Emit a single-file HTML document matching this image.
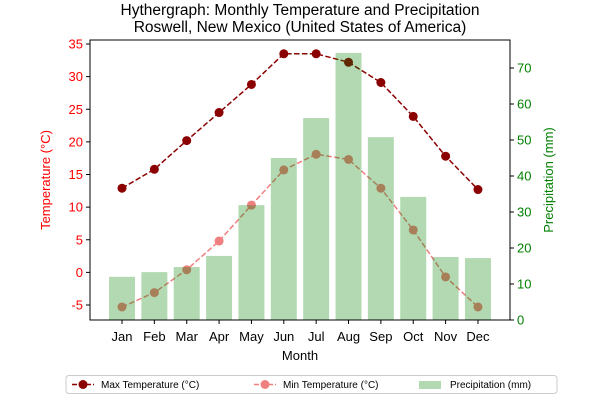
<!DOCTYPE html>
<html><head><meta charset="utf-8"><style>
body{margin:0;background:#fff;font-family:"Liberation Sans",sans-serif}
</style></head><body>
<svg id="c" width="600" height="400" xmlns="http://www.w3.org/2000/svg" font-family="Liberation Sans, sans-serif"></svg>
<script>
const months=["Jan","Feb","Mar","Apr","May","Jun","Jul","Aug","Sep","Oct","Nov","Dec"];
const maxTemp=[12.9,15.8,20.2,24.5,28.8,33.5,33.5,32.2,29.1,23.9,17.8,12.7];
const minTemp=[-5.3,-3.1,0.4,4.8,10.3,15.7,18.1,17.3,12.9,6.5,-0.7,-5.3];
const precip=[12,13.3,14.7,17.8,31.9,45,56.1,74.2,50.8,34.2,17.5,17.2];
const leftTicks=[-5,0,5,10,15,20,25,30,35];
const rightTicks=[0,10,20,30,40,50,60,70];
const svg=document.getElementById('c');
const NS="http://www.w3.org/2000/svg";
const L=90,R=510,T=40,B=320;
const x=i=>122+i*32.36;
const yL=v=>305-(v+5)*6.525;
const yR=v=>320-v*3.6;
function el(t,a,txt){const e=document.createElementNS(NS,t);for(const k in a)e.setAttribute(k,a[k]);if(txt!==undefined)e.textContent=txt;svg.appendChild(e);return e;}
function line(arr,col,name){
const d=arr.map((v,i)=>(i?'L':'M')+x(i)+','+yL(v)).join(' ');
const p=el('path',{d:d,fill:'none',stroke:col,'stroke-width':1.5,'stroke-dasharray':'5.5,2.4'});


arr.forEach((v,i)=>{const c=el('circle',{cx:x(i),cy:yL(v),r:4.5,fill:col});

});
}
line(maxTemp,'#8b0000','max-temp');
line(minTemp,'#f08080','min-temp');
// bars on top with transparency
precip.forEach((p,i)=>{const e=el('rect',{x:x(i)-13,y:yR(p),width:26,height:B-yR(p),fill:'#008000','fill-opacity':0.3});

});
el('rect',{x:L,y:T,width:R-L,height:B-T,fill:'none',stroke:'#000','stroke-width':1});
leftTicks.forEach(v=>{el('line',{x1:L-4,x2:L,y1:yL(v),y2:yL(v),stroke:'#000'});
const t=el('text',{x:L-7,y:yL(v)+4.5,'text-anchor':'end','font-size':13,fill:'red'},v);

});
rightTicks.forEach(v=>{el('line',{x1:R,x2:R+4,y1:yR(v),y2:yR(v),stroke:'#000'});
const t=el('text',{x:R+7,y:yR(v)+4.5,'font-size':13,fill:'green'},v);

});
months.forEach((m,i)=>{el('line',{x1:x(i),x2:x(i),y1:B,y2:B+4,stroke:'#000'});
const t=el('text',{x:x(i),y:B+21,'text-anchor':'middle','font-size':13},m);

});
</script>
<svg width="600" height="400" style="position:absolute;left:0;top:0" font-family="Liberation Sans, sans-serif">
<text x="300" y="15" text-anchor="middle" font-size="15.5">Hythergraph: Monthly Temperature and Precipitation</text>
<text x="300" y="32" text-anchor="middle" font-size="15.5">Roswell, New Mexico (United States of America)</text>
<text x="300" y="360" text-anchor="middle" font-size="13">Month</text>
<text transform="translate(50,180) rotate(-90)" text-anchor="middle" font-size="13" fill="red">Temperature (°C)</text>
<text transform="translate(553,180) rotate(-90)" text-anchor="middle" font-size="13" fill="green">Precipitation (mm)</text>
<g>
<rect x="66" y="375.5" width="491" height="18" rx="3" fill="#fff" stroke="#ccc"/>
<line x1="72" y1="384.5" x2="94" y2="384.5" stroke="#8b0000" stroke-width="1.5" stroke-dasharray="5,2"/><circle cx="83" cy="384.5" r="4.5" fill="#8b0000"/>
<text x="101" y="388" font-size="10">Max Temperature (°C)</text>
<line x1="254" y1="384.5" x2="276" y2="384.5" stroke="#f08080" stroke-width="1.5" stroke-dasharray="5,2"/><circle cx="265" cy="384.5" r="4.5" fill="#f08080"/>
<text x="283" y="388" font-size="10">Min Temperature (°C)</text>
<rect x="419" y="381" width="22" height="8" fill="#008000" fill-opacity="0.3"/>
<text x="450" y="388" font-size="10">Precipitation (mm)</text>
</g>
</svg>
</body></html>
